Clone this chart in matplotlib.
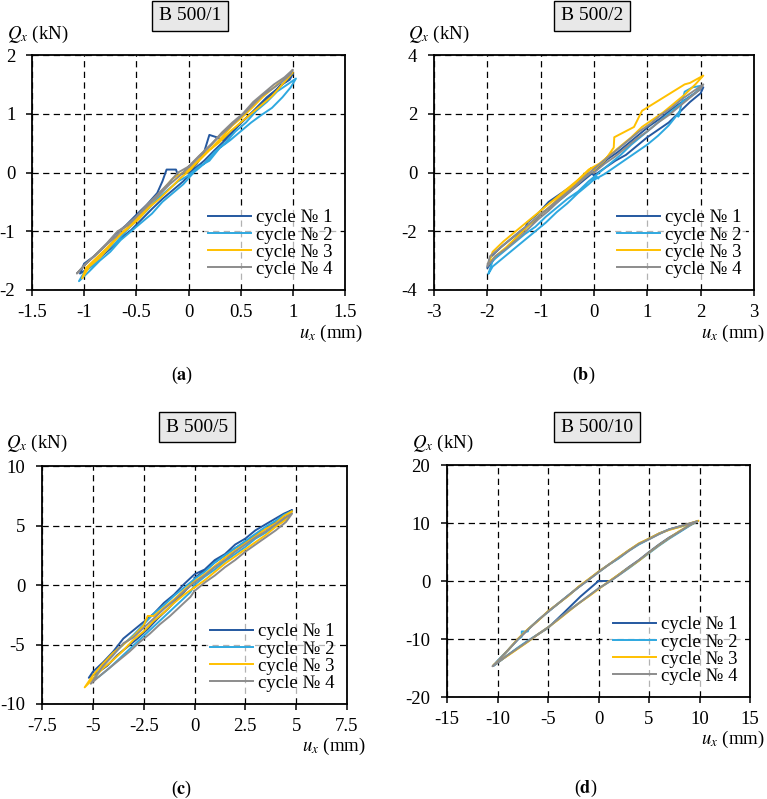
import matplotlib
matplotlib.use("Agg")
from matplotlib import pyplot as plt

plt.rcParams['font.family'] = ['Liberation Serif', 'DejaVu Serif']
plt.rcParams['mathtext.fontset'] = 'stix'
plt.rcParams['axes.unicode_minus'] = False

colors = ['#2458A0', '#2EA8E0', '#FFC000', '#8C8C8C']
labels = ['cycle № 1', 'cycle № 2', 'cycle № 3', 'cycle № 4']

# panel (a) B 500/1
a_c1_u = [0.0, 0.08, 0.15, 0.2, 0.27, 0.33, 0.42, 0.5, 0.6, 0.68, 0.78, 0.88, 0.97, 1.0, 0.93, 0.85, 0.75, 0.65, 0.55, 0.45, 0.35, 0.25, 0.15, 0.05, -0.05, -0.15, -0.25, -0.35, -0.45, -0.55, -0.65, -0.75, -0.85, -0.95, -1.04, -1.0, -0.9, -0.8, -0.7, -0.6, -0.5, -0.4, -0.3, -0.25, -0.21, -0.12, -0.1, 0.0]
a_c1_q = [0.0, 0.15, 0.35, 0.64, 0.6, 0.55, 0.68, 0.85, 1.0, 1.12, 1.3, 1.48, 1.58, 1.68, 1.55, 1.42, 1.28, 1.1, 0.92, 0.75, 0.55, 0.38, 0.2, 0.05, -0.15, -0.3, -0.45, -0.62, -0.8, -0.98, -1.12, -1.3, -1.45, -1.62, -1.72, -1.55, -1.42, -1.25, -1.05, -0.9, -0.72, -0.55, -0.35, -0.15, 0.05, 0.05, -0.05, 0.02]
a_c2_u = [0.0, 0.1, 0.2, 0.3, 0.4, 0.5, 0.6, 0.7, 0.8, 0.9, 0.98, 1.03, 0.95, 0.85, 0.75, 0.65, 0.55, 0.45, 0.35, 0.25, 0.15, 0.05, -0.05, -0.15, -0.25, -0.35, -0.45, -0.55, -0.65, -0.75, -0.85, -0.95, -1.05, -1.0, -0.9, -0.8, -0.7, -0.6, -0.5, -0.4, -0.3, -0.2, -0.1, 0.0]
a_c2_q = [-0.05, 0.1, 0.2, 0.42, 0.55, 0.7, 0.85, 0.98, 1.1, 1.28, 1.45, 1.6, 1.5, 1.38, 1.2, 1.05, 0.85, 0.7, 0.5, 0.35, 0.15, 0.0, -0.2, -0.35, -0.5, -0.7, -0.85, -1.0, -1.15, -1.35, -1.5, -1.68, -1.85, -1.7, -1.55, -1.35, -1.2, -1.0, -0.82, -0.65, -0.45, -0.3, -0.15, -0.05]
a_c3_u = [0.0, 0.1, 0.2, 0.3, 0.4, 0.5, 0.6, 0.7, 0.8, 0.9, 1.0, 0.92, 0.82, 0.72, 0.62, 0.52, 0.42, 0.32, 0.22, 0.12, 0.02, -0.08, -0.18, -0.28, -0.38, -0.48, -0.58, -0.68, -0.78, -0.88, -0.98, -1.02, -0.95, -0.85, -0.75, -0.65, -0.55, -0.45, -0.35, -0.25, -0.15, -0.05, 0.0]
a_c3_q = [0.05, 0.2, 0.38, 0.52, 0.7, 0.85, 1.0, 1.15, 1.3, 1.5, 1.7, 1.6, 1.45, 1.3, 1.12, 0.95, 0.8, 0.6, 0.42, 0.25, 0.05, -0.1, -0.28, -0.45, -0.6, -0.8, -0.95, -1.1, -1.28, -1.45, -1.62, -1.8, -1.6, -1.45, -1.25, -1.05, -0.88, -0.7, -0.5, -0.3, -0.1, 0.0, 0.05]
a_c4_u = [0.0, 0.1, 0.2, 0.3, 0.4, 0.5, 0.6, 0.7, 0.8, 0.9, 0.98, 1.0, 0.92, 0.82, 0.72, 0.62, 0.52, 0.42, 0.32, 0.22, 0.12, 0.02, -0.08, -0.18, -0.28, -0.38, -0.48, -0.58, -0.68, -0.78, -0.88, -0.98, -1.07, -1.0, -0.9, -0.8, -0.7, -0.6, -0.5, -0.4, -0.3, -0.2, -0.1, 0.0]
a_c4_q = [0.1, 0.28, 0.45, 0.62, 0.78, 0.95, 1.12, 1.3, 1.42, 1.55, 1.68, 1.75, 1.62, 1.5, 1.35, 1.2, 1.0, 0.85, 0.68, 0.48, 0.3, 0.12, -0.05, -0.2, -0.38, -0.55, -0.72, -0.9, -1.0, -1.2, -1.38, -1.55, -1.72, -1.58, -1.42, -1.25, -1.1, -0.9, -0.75, -0.55, -0.38, -0.2, 0.0, 0.1]

# panel (b) B 500/2
b_c1_u = [0.0, 0.2, 0.4, 0.6, 0.8, 1.0, 1.2, 1.4, 1.6, 1.8, 2.0, 2.05, 1.85, 1.65, 1.45, 1.25, 1.05, 0.85, 0.65, 0.45, 0.25, 0.05, -0.15, -0.35, -0.55, -0.75, -0.95, -1.15, -1.35, -1.55, -1.75, -1.95, -2.0, -1.85, -1.65, -1.45, -1.3, -1.25, -1.05, -0.85, -0.65, -0.45, -0.25, -0.05, 0.0]
b_c1_q = [-0.1, 0.15, 0.4, 0.6, 0.9, 1.2, 1.45, 1.7, 2.05, 2.4, 2.7, 2.9, 2.65, 2.4, 2.15, 1.85, 1.6, 1.3, 1.0, 0.7, 0.45, 0.1, -0.2, -0.5, -0.8, -1.1, -1.35, -1.7, -1.95, -2.25, -2.55, -2.9, -3.25, -2.9, -2.6, -2.2, -1.95, -1.7, -1.4, -1.0, -0.75, -0.5, -0.2, 0.0, -0.1]
b_c2_u = [0.0, 0.2, 0.4, 0.6, 0.8, 1.0, 1.2, 1.4, 1.62, 1.58, 1.7, 1.85, 2.0, 1.9, 1.7, 1.5, 1.3, 1.1, 0.9, 0.7, 0.5, 0.3, 0.1, -0.1, -0.3, -0.5, -0.7, -0.9, -1.1, -1.3, -1.5, -1.7, -1.9, -1.98, -1.9, -1.7, -1.5, -1.3, -1.1, -0.9, -0.7, -0.5, -0.3, -0.1, 0.05, 0.08]
b_c2_q = [-0.25, -0.05, 0.2, 0.45, 0.7, 0.95, 1.25, 1.6, 2.1, 1.9, 2.75, 2.9, 2.95, 2.7, 2.45, 2.15, 1.85, 1.55, 1.25, 0.95, 0.6, 0.3, 0.0, -0.3, -0.65, -0.9, -1.2, -1.5, -1.85, -2.1, -2.4, -2.7, -3.0, -3.45, -3.2, -2.9, -2.6, -2.3, -2.0, -1.7, -1.35, -1.05, -0.7, -0.4, -0.15, -0.2]
b_c3_u = [0.0, 0.2, 0.37, 0.38, 0.75, 0.9, 1.3, 1.7, 1.8, 2.05, 1.9, 1.7, 1.5, 1.3, 1.1, 0.9, 0.7, 0.5, 0.3, 0.1, -0.1, -0.3, -0.5, -0.7, -0.9, -1.1, -1.3, -1.5, -1.7, -1.9, -1.98, -1.85, -1.65, -1.45, -1.25, -1.05, -0.85, -0.65, -0.45, -0.25, -0.05, 0.0]
b_c3_q = [0.1, 0.4, 0.85, 1.2, 1.55, 2.1, 2.55, 3.0, 3.05, 3.3, 3.0, 2.65, 2.35, 2.05, 1.8, 1.55, 1.2, 0.9, 0.6, 0.3, 0.1, -0.25, -0.55, -0.85, -1.15, -1.45, -1.75, -2.05, -2.35, -2.7, -3.1, -2.85, -2.55, -2.2, -1.85, -1.5, -1.2, -0.85, -0.55, -0.2, 0.15, 0.1]
b_c4_u = [0.0, 0.2, 0.4, 0.6, 0.8, 1.0, 1.2, 1.4, 1.6, 1.8, 2.0, 2.05, 1.85, 1.65, 1.45, 1.25, 1.05, 0.85, 0.65, 0.45, 0.25, 0.05, -0.15, -0.35, -0.55, -0.75, -0.95, -1.15, -1.35, -1.55, -1.75, -1.95, -2.0, -1.85, -1.65, -1.45, -1.25, -1.05, -0.85, -0.65, -0.45, -0.25, -0.05, 0.0]
b_c4_q = [0.0, 0.3, 0.55, 0.85, 1.15, 1.4, 1.7, 1.95, 2.25, 2.55, 2.85, 3.0, 2.75, 2.5, 2.2, 1.95, 1.65, 1.4, 1.1, 0.8, 0.5, 0.2, -0.1, -0.45, -0.75, -1.05, -1.35, -1.65, -1.95, -2.25, -2.55, -2.85, -3.2, -2.85, -2.6, -2.3, -1.95, -1.6, -1.3, -0.95, -0.65, -0.3, 0.0, 0.0]

# panel (c) B 500/5
c_c1_u = [0.0, 0.5, 1.0, 1.5, 2.0, 2.5, 3.0, 3.5, 4.0, 4.5, 4.8, 4.4, 4.0, 3.5, 3.0, 2.5, 2.0, 1.5, 1.0, 0.5, 0.0, -0.5, -1.0, -1.5, -2.0, -2.5, -3.0, -3.5, -4.0, -4.5, -5.0, -5.2, -4.8, -4.3, -3.8, -3.3, -2.8, -2.3, -1.8, -1.3, -0.8, -0.3, 0.0]
c_c1_q = [0.6, 1.2, 1.9, 2.5, 3.1, 3.6, 4.2, 4.7, 5.3, 5.9, 6.3, 6.0, 5.6, 5.1, 4.6, 3.9, 3.4, 2.6, 2.1, 1.3, 0.9, 0.1, -0.8, -1.5, -2.4, -3.1, -3.8, -4.5, -5.6, -6.5, -7.3, -7.8, -7.4, -6.8, -5.9, -5.2, -4.5, -3.7, -2.8, -2.0, -1.1, -0.2, 0.5]
c_c2_u = [0.0, 0.5, 1.0, 1.5, 2.0, 2.5, 3.0, 3.5, 4.0, 4.5, 4.8, 4.4, 4.0, 3.5, 3.0, 2.5, 2.0, 1.5, 1.0, 0.5, 0.0, -0.5, -1.0, -1.5, -2.0, -2.5, -3.0, -3.5, -4.0, -4.5, -5.0, -4.7, -4.2, -3.7, -3.2, -2.7, -2.2, -1.7, -1.2, -0.7, -0.2, 0.0]
c_c2_q = [0.0, 0.7, 1.3, 2.0, 2.6, 3.2, 3.9, 4.4, 5.0, 5.6, 6.2, 5.9, 5.4, 4.9, 4.3, 3.7, 3.1, 2.5, 1.9, 1.1, 0.5, -0.2, -0.9, -1.7, -2.4, -3.3, -4.2, -5.0, -5.8, -6.8, -8.0, -7.7, -7.0, -6.2, -5.4, -4.6, -3.8, -3.0, -2.2, -1.4, -0.6, 0.0]
c_c3_u = [0.0, 0.5, 1.0, 1.5, 2.0, 2.5, 3.0, 3.5, 4.0, 4.5, 4.8, 4.4, 4.0, 3.5, 3.0, 2.5, 2.0, 1.5, 1.0, 0.5, 0.0, -0.5, -1.0, -1.5, -2.0, -2.3, -2.5, -3.0, -3.5, -4.0, -4.5, -5.0, -5.4, -5.0, -4.5, -4.0, -3.5, -3.0, -2.5, -2.0, -1.5, -1.0, -0.5, 0.0]
c_c3_q = [-0.2, 0.4, 1.1, 1.8, 2.4, 3.0, 3.6, 4.2, 4.9, 5.5, 6.2, 5.8, 5.2, 4.7, 4.1, 3.5, 2.9, 2.3, 1.6, 0.9, 0.3, -0.4, -1.2, -1.9, -2.6, -2.6, -3.4, -4.3, -5.0, -5.7, -6.6, -7.6, -8.6, -7.9, -7.0, -6.3, -5.5, -4.6, -3.9, -3.0, -2.3, -1.5, -0.8, -0.2]
c_c4_u = [0.0, 0.5, 1.0, 1.5, 2.0, 2.5, 3.0, 3.5, 4.0, 4.5, 4.8, 4.4, 4.0, 3.5, 3.0, 2.5, 2.0, 1.5, 1.0, 0.5, 0.0, -0.5, -1.0, -1.5, -2.0, -2.5, -3.0, -3.5, -4.0, -4.5, -5.1, -4.7, -4.2, -3.7, -3.2, -2.7, -2.2, -1.7, -1.2, -0.7, -0.2, 0.0]
c_c4_q = [-0.5, 0.2, 0.8, 1.5, 2.1, 2.8, 3.4, 4.0, 4.6, 5.3, 6.0, 5.6, 5.1, 4.5, 4.0, 3.4, 2.8, 2.1, 1.5, 0.8, 0.2, -0.5, -1.3, -2.0, -2.8, -3.6, -4.4, -4.9, -5.9, -6.8, -8.3, -7.7, -7.0, -6.3, -5.6, -4.8, -4.1, -3.3, -2.6, -1.8, -1.0, -0.5]

# panel (d) B 500/10
d_c1_u = [0.0, 1.15, 2.0, 3.0, 4.0, 5.0, 6.0, 7.0, 8.0, 9.0, 9.8, 9.0, 8.0, 7.0, 6.0, 5.0, 4.0, 3.0, 2.0, 1.0, 0.0, -1.0, -2.0, -3.0, -4.0, -5.0, -6.0, -7.0, -8.0, -9.0, -10.0, -10.4, -10.0, -9.0, -8.0, -7.0, -6.0, -5.0, -3.5, -1.8, 0.0]
d_c1_q = [0.0, 0.0, 1.1, 2.4, 3.6, 5.0, 6.3, 7.5, 8.5, 9.6, 10.3, 9.9, 9.4, 8.9, 8.2, 7.3, 6.4, 5.3, 4.0, 2.8, 1.6, 0.2, -1.1, -2.5, -3.9, -5.3, -6.8, -8.4, -10.1, -12.0, -13.8, -14.6, -14.1, -12.8, -11.6, -10.4, -9.2, -8.1, -5.6, -2.7, 0.0]
d_c2_u = [0.0, 1.0, 2.0, 3.0, 4.0, 5.0, 6.0, 7.0, 8.0, 9.0, 9.7, 9.0, 8.0, 7.0, 6.0, 5.0, 4.0, 3.0, 2.0, 1.0, 0.0, -1.0, -2.0, -3.0, -4.0, -5.0, -6.0, -6.9, -7.0, -7.6, -7.6, -8.0, -9.0, -10.0, -10.4, -10.0, -9.0, -8.0, -7.0, -6.0, -5.0, -4.0, -3.0, -2.0, -1.0, 0.0]
d_c2_q = [-1.3, -0.2, 1.0, 2.2, 3.5, 4.8, 6.1, 7.3, 8.4, 9.5, 10.2, 9.8, 9.3, 8.9, 8.1, 7.2, 6.3, 5.2, 3.9, 2.8, 1.5, 0.2, -1.1, -2.5, -3.9, -5.3, -6.8, -8.2, -8.7, -8.7, -9.6, -10.1, -12.0, -13.8, -14.6, -14.1, -12.8, -11.5, -10.3, -9.2, -8.0, -6.6, -5.2, -3.9, -2.6, -1.3]
d_c3_u = [0.0, 1.0, 2.0, 3.0, 4.0, 5.0, 6.0, 7.0, 8.0, 9.0, 9.9, 9.0, 8.0, 7.0, 6.0, 5.0, 4.0, 3.0, 2.0, 1.0, 0.0, -1.0, -2.0, -3.0, -4.0, -5.0, -6.0, -7.0, -8.0, -9.0, -10.0, -10.4, -10.0, -9.0, -8.0, -7.0, -6.0, -5.0, -4.0, -3.0, -2.0, -1.0, 0.0]
d_c3_q = [-1.4, -0.1, 1.1, 2.3, 3.5, 4.9, 6.2, 7.4, 8.6, 9.6, 10.4, 9.9, 9.3, 8.8, 8.2, 7.3, 6.5, 5.3, 4.1, 2.8, 1.6, 0.3, -1.0, -2.6, -3.9, -5.2, -6.9, -8.3, -10.0, -12.0, -13.9, -14.5, -14.0, -12.9, -11.7, -10.5, -9.2, -8.0, -6.7, -5.3, -3.9, -2.7, -1.4]
d_c4_u = [0.0, 1.0, 2.0, 3.0, 4.0, 5.0, 6.0, 7.0, 8.0, 9.0, 9.8, 9.0, 8.0, 7.0, 6.0, 5.0, 4.0, 3.0, 2.0, 1.0, 0.0, -1.0, -2.0, -3.0, -4.0, -5.0, -6.0, -7.0, -8.0, -9.0, -10.0, -10.5, -10.0, -9.0, -8.0, -7.0, -6.0, -5.0, -4.0, -3.0, -2.0, -1.0, 0.0]
d_c4_q = [-1.3, -0.2, 1.0, 2.3, 3.6, 4.9, 6.2, 7.4, 8.5, 9.6, 10.3, 9.9, 9.4, 8.9, 8.1, 7.2, 6.4, 5.2, 4.0, 2.8, 1.5, 0.2, -1.1, -2.5, -3.9, -5.3, -6.8, -8.4, -10.1, -12.0, -13.9, -14.7, -14.1, -12.8, -11.6, -10.4, -9.2, -8.0, -6.6, -5.2, -3.9, -2.6, -1.3]

a_xticks = [-1.5, -1, -0.5, 0, 0.5, 1, 1.5]
a_xlabels = ['-1.5', '-1', '-0.5', '0', '0.5', '1', '1.5']
a_yticks = [-2, -1, 0, 1, 2]
b_xticks = [-3, -2, -1, 0, 1, 2, 3]
b_yticks = [-4, -2, 0, 2, 4]
c_xticks = [-7.5, -5, -2.5, 0, 2.5, 5, 7.5]
c_xlabels = ['-7.5', '-5', '-2.5', '0', '2.5', '5', '7.5']
c_yticks = [-10, -5, 0, 5, 10]
d_xticks = [-15, -10, -5, 0, 5, 10, 15]
d_yticks = [-20, -10, 0, 10, 20]

W, H = 767, 799
fig = plt.figure(figsize=(W / 100, H / 100), dpi=100)


def px(x, y):
    return x / W, 1 - y / H


def panel(rect, data, xticks, xlabels, yticks, title, tpos, ypos, xpos, cap, cpos):
    ax = fig.add_axes(rect)
    for (u, q), c, lab in zip(data, colors, labels):
        ax.plot(u, q, color=c, lw=1.4, label=lab)
    ax.set_xlim(xticks[0], xticks[-1])
    ax.set_ylim(yticks[0], yticks[-1])
    ax.set_xticks(xticks)
    ax.set_xticklabels(xlabels)
    ax.set_yticks(yticks)
    ax.set_yticklabels([str(v) for v in yticks])
    ax.grid(True, color='black', ls=(0, (5, 3.5)), lw=0.9)
    ax.tick_params(direction='out', length=4, width=1.1, labelsize=13.5)
    ax.tick_params(axis='y', pad=8)
    ax.tick_params(axis='x', pad=6)
    for s in ax.spines.values():
        s.set_linewidth(1.3)
    leg = ax.legend(loc='lower right', frameon=True, fontsize=13.5, fancybox=False,
                    handlelength=2.3, handletextpad=0.3, labelspacing=0.0,
                    borderpad=0.2, borderaxespad=0.45)
    leg.get_frame().set_facecolor('white')
    leg.get_frame().set_edgecolor('none')
    leg.get_frame().set_alpha(0.7)
    fig.text(*px(*tpos), title, ha='center', va='center', fontsize=14,
             bbox=dict(boxstyle='square,pad=0.35', fc='#E8E8E8', ec='black', lw=1))
    fig.text(*px(*ypos), r'$Q_x$ (kN)', ha='left', va='center', fontsize=13.5)
    fig.text(*px(*xpos), r'$u_x$ (mm)', ha='right', va='center', fontsize=13.5)
    fig.text(*px(*cpos), '($\\mathbf{' + cap + '}$)', ha='center', va='center', fontsize=13)
    return ax


panel([32 / W, 1 - 290 / H, 313 / W, 235 / H],
      [(a_c1_u, a_c1_q), (a_c2_u, a_c2_q), (a_c3_u, a_c3_q), (a_c4_u, a_c4_q)],
      a_xticks, a_xlabels, a_yticks, 'B 500/1', (190, 16), (7, 34), (363, 333), 'a', (182, 375))
panel([434 / W, 1 - 290 / H, 320 / W, 235 / H],
      [(b_c1_u, b_c1_q), (b_c2_u, b_c2_q), (b_c3_u, b_c3_q), (b_c4_u, b_c4_q)],
      b_xticks, [str(v) for v in b_xticks], b_yticks, 'B 500/2', (592, 16), (408, 34), (765, 333), 'b', (584, 375))
panel([42 / W, 1 - 704 / H, 305 / W, 238 / H],
      [(c_c1_u, c_c1_q), (c_c2_u, c_c2_q), (c_c3_u, c_c3_q), (c_c4_u, c_c4_q)],
      c_xticks, c_xlabels, c_yticks, 'B 500/5', (197, 427), (6, 443), (366, 746), 'c', (182, 789))
panel([447 / W, 1 - 697 / H, 303 / W, 232 / H],
      [(d_c1_u, d_c1_q), (d_c2_u, d_c2_q), (d_c3_u, d_c3_q), (d_c4_u, d_c4_q)],
      d_xticks, [str(v) for v in d_xticks], d_yticks, 'B 500/10', (597, 427), (412, 443), (765, 739), 'd', (586, 788))

fig.savefig('out.png', dpi=100)
